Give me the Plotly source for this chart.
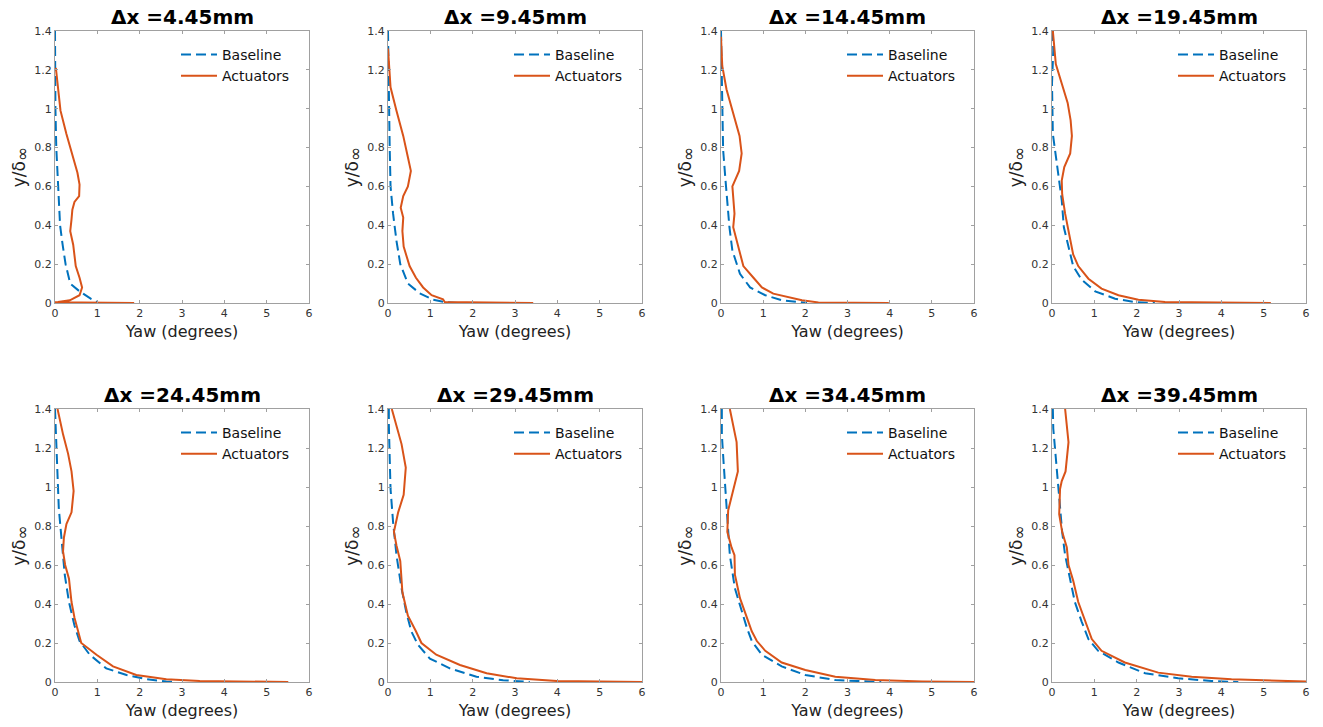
import plotly.graph_objects as go

W, H = 1323, 727

titles = ["Δx =4.45mm", "Δx =9.45mm", "Δx =14.45mm", "Δx =19.45mm",
          "Δx =24.45mm", "Δx =29.45mm", "Δx =34.45mm", "Δx =39.45mm"]

# Baseline (yaw in degrees, y/delta)
base_x1 = [0.0, 0.0, 0.01, 0.03, 0.05, 0.08, 0.12, 0.18, 0.25, 0.36, 0.58, 0.86, 1.0]
base_y1 = [1.4, 1.2, 1.0, 0.8, 0.7, 0.6, 0.4, 0.3, 0.2, 0.1, 0.06, 0.02, 0.005]

base_x2 = [0.0, 0.01, 0.02, 0.04, 0.06, 0.12, 0.2, 0.29, 0.47, 0.75, 1.07, 1.34, 1.7]
base_y2 = [1.4, 1.2, 1.0, 0.8, 0.6, 0.46, 0.32, 0.2, 0.1, 0.05, 0.017, 0.005, 0.0]

base_x3 = [0.0, 0.02, 0.03, 0.05, 0.1, 0.15, 0.2, 0.27, 0.45, 0.69, 1.05, 1.44, 1.84, 2.04]
base_y3 = [1.4, 1.22, 0.99, 0.79, 0.65, 0.53, 0.39, 0.27, 0.15, 0.08, 0.04, 0.014, 0.003, 0.0]

base_x4 = [0.02, 0.03, 0.0, 0.02, 0.07, 0.15, 0.23, 0.28, 0.39, 0.5, 0.7, 1.02, 1.49, 1.96, 2.43]
base_y4 = [1.4, 1.3, 1.13, 0.87, 0.79, 0.65, 0.53, 0.39, 0.29, 0.19, 0.12, 0.06, 0.022, 0.005, 0.0]

base_x5 = [0.0, 0.03, 0.05, 0.09, 0.16, 0.23, 0.33, 0.46, 0.58, 0.82, 1.21, 1.69, 2.16, 2.63, 2.87]
base_y5 = [1.4, 1.23, 1.06, 0.89, 0.72, 0.55, 0.41, 0.29, 0.21, 0.14, 0.07, 0.036, 0.015, 0.002, 0.0]

base_x6 = [0.02, 0.02, 0.04, 0.06, 0.12, 0.2, 0.32, 0.43, 0.55, 0.71, 0.99, 1.46, 2.09, 2.72, 3.35]
base_y6 = [1.4, 1.32, 1.15, 0.99, 0.82, 0.65, 0.48, 0.36, 0.26, 0.19, 0.12, 0.07, 0.027, 0.009, 0.0]

base_x7 = [0.02, 0.02, 0.06, 0.1, 0.16, 0.21, 0.33, 0.49, 0.61, 0.73, 0.97, 1.44, 2.0, 2.71, 3.34, 3.8]
base_y7 = [1.4, 1.27, 1.13, 0.99, 0.82, 0.65, 0.48, 0.36, 0.28, 0.21, 0.14, 0.08, 0.036, 0.01, 0.002, 0.0]

base_x8 = [0.02, 0.03, 0.09, 0.15, 0.19, 0.24, 0.31, 0.4, 0.54, 0.7, 0.86, 1.09, 1.57, 2.2, 2.98, 3.77, 4.4]
base_y8 = [1.4, 1.3, 1.15, 1.01, 0.89, 0.77, 0.65, 0.55, 0.41, 0.31, 0.22, 0.16, 0.1, 0.045, 0.019, 0.005, 0.0]

# Actuators
act_x1 = [0.02, 0.07, 0.13, 0.27, 0.39, 0.53, 0.58, 0.57, 0.46, 0.41, 0.39, 0.36, 0.43, 0.49, 0.58, 0.64, 0.58, 0.35, 0.07, 0.0, 1.87]
act_y1 = [1.21, 1.1, 0.99, 0.87, 0.78, 0.67, 0.61, 0.55, 0.52, 0.48, 0.43, 0.37, 0.3, 0.19, 0.13, 0.08, 0.04, 0.014, 0.005, 0.004, 0.0]

act_x2 = [0.0, 0.02, 0.06, 0.2, 0.36, 0.47, 0.54, 0.47, 0.36, 0.3, 0.36, 0.34, 0.37, 0.51, 0.66, 0.83, 1.03, 1.3, 1.34, 3.43]
act_y2 = [1.31, 1.22, 1.11, 0.99, 0.86, 0.75, 0.68, 0.6, 0.55, 0.49, 0.44, 0.37, 0.29, 0.19, 0.13, 0.08, 0.04, 0.019, 0.005, 0.0]

act_x3 = [0.0, 0.03, 0.13, 0.29, 0.44, 0.49, 0.43, 0.27, 0.32, 0.29, 0.41, 0.53, 0.77, 0.97, 1.24, 1.72, 1.92, 2.31, 3.98]
act_y3 = [1.37, 1.22, 1.1, 0.98, 0.86, 0.77, 0.68, 0.6, 0.46, 0.39, 0.29, 0.19, 0.13, 0.08, 0.048, 0.026, 0.014, 0.003, 0.0]

act_x4 = [0.02, 0.09, 0.23, 0.37, 0.44, 0.47, 0.43, 0.29, 0.23, 0.24, 0.31, 0.4, 0.5, 0.62, 0.86, 1.17, 1.57, 2.04, 2.67, 5.17]
act_y4 = [1.4, 1.23, 1.13, 1.03, 0.94, 0.86, 0.77, 0.7, 0.63, 0.56, 0.46, 0.36, 0.25, 0.19, 0.125, 0.074, 0.04, 0.017, 0.005, 0.0]

act_x5 = [0.06, 0.19, 0.31, 0.39, 0.44, 0.39, 0.27, 0.21, 0.19, 0.24, 0.33, 0.39, 0.46, 0.54, 0.62, 0.98, 1.37, 1.92, 2.63, 3.42, 5.51]
act_y5 = [1.4, 1.27, 1.17, 1.08, 0.98, 0.87, 0.81, 0.74, 0.67, 0.6, 0.53, 0.41, 0.33, 0.26, 0.2, 0.14, 0.08, 0.036, 0.014, 0.005, 0.0]

act_x6 = [0.09, 0.2, 0.32, 0.42, 0.37, 0.24, 0.14, 0.2, 0.29, 0.34, 0.47, 0.66, 0.79, 1.14, 1.7, 2.33, 3.04, 3.99, 6.0]
act_y6 = [1.4, 1.32, 1.22, 1.1, 0.96, 0.87, 0.77, 0.7, 0.62, 0.46, 0.34, 0.26, 0.2, 0.14, 0.087, 0.045, 0.019, 0.005, 0.0]

act_x7 = [0.21, 0.29, 0.37, 0.4, 0.29, 0.17, 0.15, 0.25, 0.32, 0.33, 0.45, 0.61, 0.73, 0.85, 1.05, 1.44, 2.0, 2.71, 3.66, 4.77, 6.0]
act_y7 = [1.4, 1.32, 1.23, 1.08, 0.98, 0.88, 0.77, 0.69, 0.65, 0.55, 0.43, 0.33, 0.26, 0.21, 0.16, 0.1, 0.062, 0.027, 0.01, 0.003, 0.0]

act_x8 = [0.31, 0.35, 0.39, 0.32, 0.23, 0.19, 0.17, 0.24, 0.35, 0.39, 0.5, 0.62, 0.78, 0.94, 1.17, 1.72, 2.51, 3.3, 4.24, 5.27, 6.0]
act_y8 = [1.4, 1.32, 1.23, 1.08, 1.03, 0.99, 0.86, 0.77, 0.69, 0.6, 0.52, 0.41, 0.31, 0.22, 0.16, 0.1, 0.048, 0.027, 0.014, 0.005, 0.002]

base_xs = [base_x1, base_x2, base_x3, base_x4, base_x5, base_x6, base_x7, base_x8]
base_ys = [base_y1, base_y2, base_y3, base_y4, base_y5, base_y6, base_y7, base_y8]
act_xs = [act_x1, act_x2, act_x3, act_x4, act_x5, act_x6, act_x7, act_x8]
act_ys = [act_y1, act_y2, act_y3, act_y4, act_y5, act_y6, act_y7, act_y8]

x_ticks = [0, 1, 2, 3, 4, 5, 6]
y_ticks = [0, 0.2, 0.4, 0.6, 0.8, 1.0, 1.2, 1.4]

BLUE = "#0072BD"
ORANGE = "#D95319"
AXC = "#a0a0a0"
FONT = "DejaVu Sans"

# pixel layout of plot areas
col_px = [(55, 309), (388, 642), (721, 974), (1052, 1306)]
row_px = [(31, 303), (409, 682)]

fig = go.Figure()
layout = dict(
    width=W, height=H, margin=dict(l=0, r=0, t=0, b=0, autoexpand=False),
    paper_bgcolor="white", plot_bgcolor="white",
    font=dict(family=FONT, color="#333333"),
    annotations=[],
)

for i in range(8):
    r, c = divmod(i, 4)
    x0, x1 = col_px[c]
    yt, yb = row_px[r]
    n = i + 1
    xa = "x" if n == 1 else f"x{n}"
    ya = "y" if n == 1 else f"y{n}"
    lg = "legend" if n == 1 else f"legend{n}"
    fig.add_trace(go.Scatter(x=base_xs[i], y=base_ys[i], mode="lines", name="Baseline",
                             line=dict(color=BLUE, width=2, dash="10px,5px"),
                             xaxis=xa, yaxis=ya, legend=lg, showlegend=True))
    fig.add_trace(go.Scatter(x=act_xs[i], y=act_ys[i], mode="lines", name="Actuators",
                             line=dict(color=ORANGE, width=2),
                             xaxis=xa, yaxis=ya, legend=lg, showlegend=True))
    axkw = dict(showline=True, linecolor=AXC, linewidth=1, mirror="ticks",
                ticks="inside", ticklen=3, tickcolor=AXC, showgrid=False, zeroline=False,
                automargin=False,
                tickfont=dict(family=FONT, size=11, color="#333333"))
    layout["xaxis" if n == 1 else f"xaxis{n}"] = dict(
        domain=[x0 / W, x1 / W], anchor=ya, range=[0, 6], tickvals=x_ticks,
        title=dict(text="Yaw (degrees)", font=dict(family=FONT, size=16, color="#222222"), standoff=6),
        **axkw)
    layout["yaxis" if n == 1 else f"yaxis{n}"] = dict(
        domain=[1 - yb / H, 1 - yt / H], anchor=xa, range=[0, 1.4], tickvals=y_ticks,
        title=dict(text="y/δ<sub><span style='font-size:17px'>∞</span></sub>",
                   font=dict(family=FONT, size=17, color="#222222"), standoff=4),
        **axkw)
    layout[lg] = dict(x=(x0 + 121) / W, y=1 - (yt + 8) / H, xanchor="left", yanchor="top",
                      bgcolor="rgba(0,0,0,0)", borderwidth=0, itemwidth=36,
                      font=dict(family=FONT, size=14, color="#111111"), tracegroupgap=0)
    layout["annotations"].append(dict(
        text=f"<b>{titles[i]}</b>", x=(x0 + x1) / 2 / W, y=1 - (yt - 14) / H,
        xref="paper", yref="paper", xanchor="center", yanchor="middle", showarrow=False,
        font=dict(family=FONT, size=20, color="#000000")))

fig.update_layout(**layout)
fig.write_html("out.html")
